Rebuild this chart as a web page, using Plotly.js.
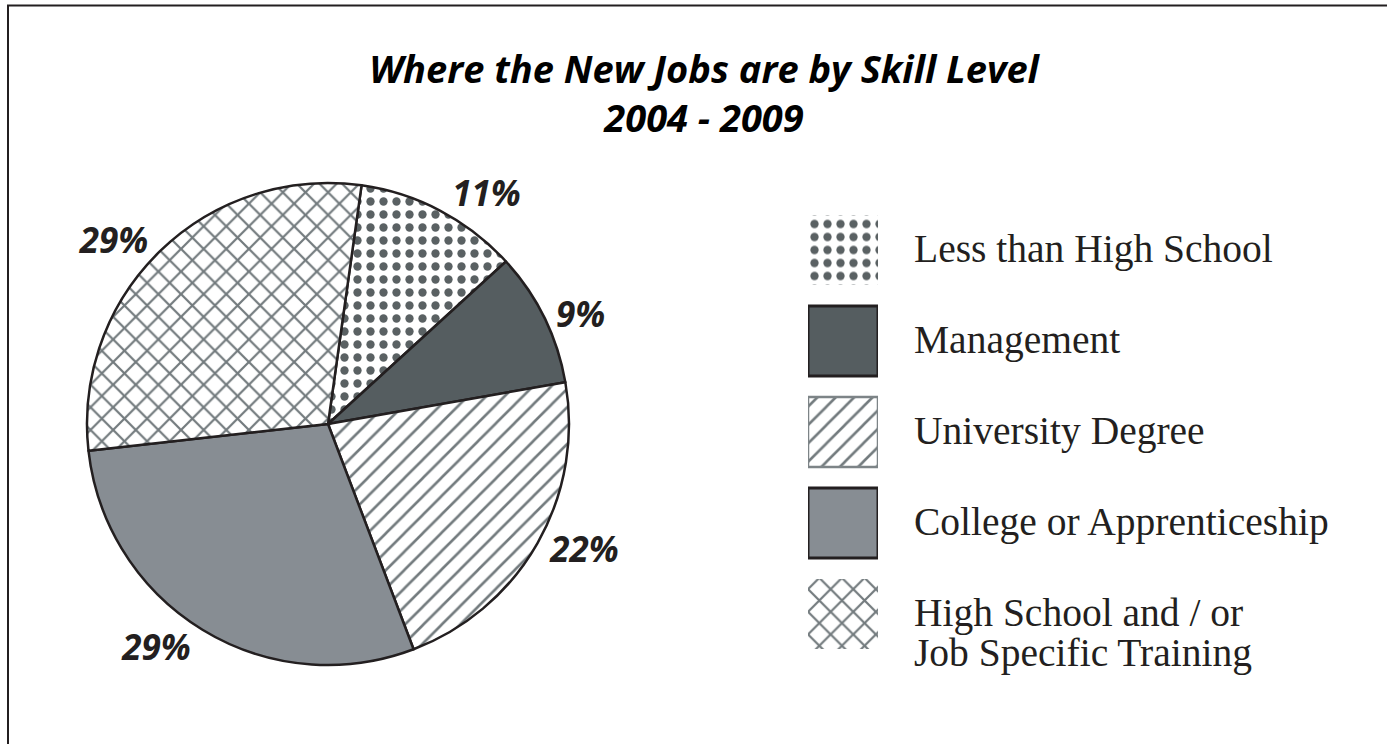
<!DOCTYPE html>
<html><head><meta charset="utf-8">
<script src="https://cdn.plot.ly/plotly-3.0.1.min.js"></script>
<style>html,body{margin:0;padding:0;background:#fff}#chart{width:1387px;height:744px}</style>
</head><body><div id="chart"></div>
<script>
// ---- data ----
const categories = ['Less than High School', 'Management', 'University Degree', 'College or Apprenticeship', 'High School and / or<br>Job Specific Training'];
const shares = [11, 9, 22, 29, 29];
const titleLines = ['Where the New Jobs are by Skill Level', '2004 - 2009'];
// ---- styles ----
const fillColors = ['#ffffff', '#555d60', '#ffffff', '#878d93', '#ffffff'];
const patternShapes = ['.', '', '/', '', 'x'];
const patternColors = ['#5a6163', '#555d60', '#737b7e', '#878d93', '#737b7e'];
const patternSizes = [13, 10, 13, 10, 16];
const patternSolidity = [0.32, 0.3, 0.2, 0.3, 0.26];
const swatchLineColors = ['rgba(0,0,0,0)', '#231f20', '#7d8487', '#231f20', 'rgba(0,0,0,0)'];
const swatchLineWidths = [0, 3, 2.5, 3, 0];
const W = 1387, H = 744;
const ink = '#231f20';

const pie = {
  type: 'pie',
  labels: categories,
  values: shares,
  sort: false,
  direction: 'clockwise',
  rotation: 8,
  domain: {x: [87 / W, 569 / W], y: [1 - 665 / H, 1 - 183 / H]},
  marker: {
    colors: fillColors,
    line: {color: ink, width: 2.5},
    pattern: {shape: patternShapes, fgcolor: patternColors, size: patternSizes, solidity: patternSolidity}
  },
  texttemplate: '%{value}%',
  textposition: 'outside',
  textfont: {family: 'Open Sans', size: 35, color: ink, weight: 700, style: 'italic'},
  hoverinfo: 'label+value',
  showlegend: false
};

// legend swatches: one bar per category on a small auxiliary axis
const swatches = categories.map((c, i) => ({
  type: 'bar',
  orientation: 'h',
  y: [c],
  x: [1],
  width: 0.77,
  xaxis: 'x2', yaxis: 'y2',
  marker: {
    color: fillColors[i],
    line: {color: swatchLineColors[i], width: swatchLineWidths[i]},
    pattern: patternShapes[i] ? {shape: patternShapes[i], fgcolor: patternColors[i], bgcolor: fillColors[i], size: patternSizes[i], solidity: patternSolidity[i], fillmode: 'replace'} : undefined
  },
  hoverinfo: 'y',
  showlegend: false
}));

const legendText = [];
categories.forEach((c, i) => {
  c.split('<br>').forEach((line, k) => {
    legendText.push({
      xref: 'paper', yref: 'y2', x: 912 / W, y: c,
      text: line, showarrow: false, xanchor: 'left', yanchor: 'middle', align: 'left',
      yshift: 1 - 40 * k,
      font: {family: 'Liberation Serif', size: 39.5, color: ink}
    });
  });
});

const layout = {
  width: W, height: H,
  margin: {l: 0, r: 0, t: 0, b: 0},
  paper_bgcolor: '#ffffff', plot_bgcolor: 'rgba(0,0,0,0)',
  title: {
    text: titleLines.join('<br>'),
    x: 704 / W, xanchor: 'center', xref: 'paper',
    y: 1 - 83 / H, yanchor: 'middle', yref: 'container',
    font: {family: 'Open Sans', size: 38, color: '#000', weight: 700, style: 'italic'}
  },
  barmode: 'overlay',
  xaxis2: {domain: [808 / W, 878 / W], range: [0, 1], visible: false, fixedrange: true},
  yaxis2: {domain: [1 - 659.5 / H, 1 - 204.5 / H], range: [4.5, -0.5], type: 'category', categoryarray: categories, categoryorder: 'array', visible: false, fixedrange: true, anchor: 'x2'},
  annotations: legendText,
  shapes: [{type: 'rect', xref: 'paper', yref: 'paper', x0: 8 / W, x1: 1.02, y0: -0.02, y1: 1 - 5.5 / H, line: {color: ink, width: 2}, fillcolor: 'rgba(0,0,0,0)', layer: 'below'}]
};

Plotly.newPlot('chart', [pie].concat(swatches), layout, {displayModeBar: false, staticPlot: true});
</script>
</body></html>
